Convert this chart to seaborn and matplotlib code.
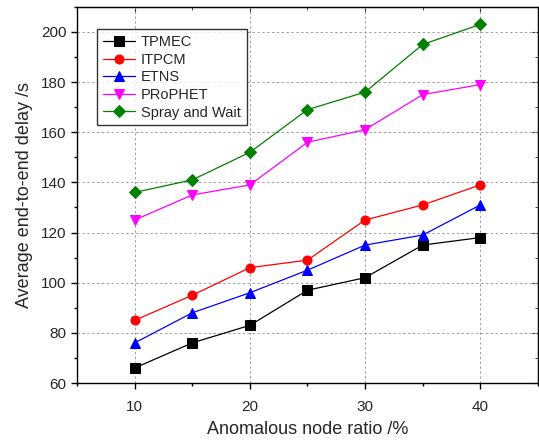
import numpy as np
import pandas as pd
import seaborn as sns
import matplotlib.pyplot as plt
from matplotlib.ticker import MultipleLocator

# datos
ratio = [10, 15, 20, 25, 30, 35, 40]
tpmec = [66, 76, 83, 97, 102, 115, 118]
itpcm = [85, 95, 106, 109, 125, 131, 139]
etns = [76, 88, 96, 105, 115, 119, 131]
prophet = [125, 135, 139, 156, 161, 175, 179]
spray = [136, 141, 152, 169, 176, 195, 203]

metodos = ["TPMEC", "ITPCM", "ETNS", "PRoPHET", "Spray and Wait"]
valores = [tpmec, itpcm, etns, prophet, spray]
colores = ["black", "red", "blue", "magenta", "green"]
marcadores = ["s", "o", "^", "v", "D"]

df = pd.DataFrame({
    "ratio": ratio * len(metodos),
    "delay": [v for serie in valores for v in serie],
    "metodo": [m for m in metodos for _ in ratio],
})

sns.set_style("ticks")
plt.rcParams["font.family"] = ["Liberation Sans", "DejaVu Sans"]

fig = plt.figure(figsize=(5.39, 4.41), dpi=100)
ax = fig.add_axes([0.143, 0.1315, 0.855, 0.853])

sns.lineplot(data=df, x="ratio", y="delay", hue="metodo", style="metodo",
             palette=colores, markers=marcadores, dashes=False, markersize=6.5,
             linewidth=0.9, ax=ax)
for linea, c in zip(ax.get_lines(), colores):
    linea.set_markeredgecolor(c)

ax.set_xlim(5, 45)
ax.set_ylim(60, 210)
ax.xaxis.set_major_locator(MultipleLocator(10))
ax.xaxis.set_minor_locator(MultipleLocator(5))
ax.yaxis.set_major_locator(MultipleLocator(20))
ax.yaxis.set_minor_locator(MultipleLocator(10))
ax.grid(True, which="major", linestyle=(0, (2.5, 2.5)), color="#a0a0a0", linewidth=0.7)
for s in ax.spines.values():
    s.set_color("black")
    s.set_linewidth(1.0)
ax.tick_params(which="both", direction="out", length=4, width=1, labelsize=11, color="black")
ax.tick_params(which="minor", length=2.5)
ax.tick_params(axis="x", pad=8)
ax.tick_params(top=False, right=False)

# ticks hacia dentro en los ejes superior y derecho
ax2 = ax.secondary_yaxis("right")
ax2.yaxis.set_major_locator(MultipleLocator(20))
ax2.yaxis.set_minor_locator(MultipleLocator(10))
ax2.tick_params(which="both", direction="in", labelright=False, length=4)
ax2.tick_params(which="minor", length=2.5)
ax3 = ax.secondary_xaxis("top")
ax3.xaxis.set_major_locator(MultipleLocator(10))
ax3.xaxis.set_minor_locator(MultipleLocator(5))
ax3.tick_params(which="both", direction="in", labeltop=False, length=4)
ax3.tick_params(which="minor", length=2.5)

ax.set_xlabel("Anomalous node ratio /%", fontsize=13, labelpad=5)
ax.set_ylabel("Average end-to-end delay /s", fontsize=13, labelpad=6)

leg = ax.legend(loc="upper left", bbox_to_anchor=(0.028, 0.96), fontsize=10.5,
                frameon=True, fancybox=False, edgecolor="black",
                handlelength=2.2, handletextpad=0.4, labelspacing=0.25, borderpad=0.4)
leg.get_frame().set_linewidth(1.0)
leg.set_title(None)
for h, c in zip(leg.legend_handles, colores):
    h.set_markersize(6.5)
    h.set_markeredgecolor(c)

fig.savefig("out.png", dpi=100)
